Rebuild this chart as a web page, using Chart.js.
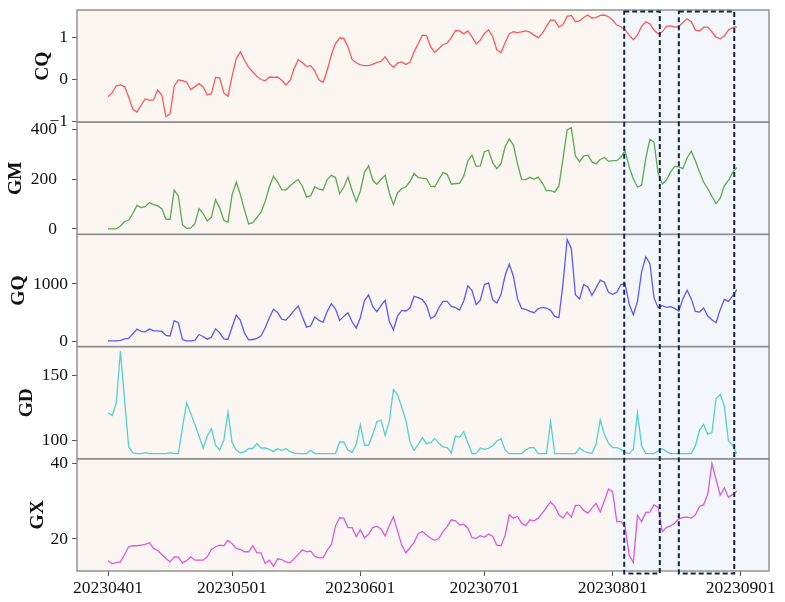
<!DOCTYPE html>
<html lang="en">
<head>
<meta charset="UTF-8">
<title>CQ / GM / GQ / GD / GX</title>
<script src="https://cdn.jsdelivr.net/npm/chart.js"></script>
<style>
  body { margin: 0; background: #fff; }
  .wrap { position: relative; width: 785px; height: 602px; }
</style>
</head>
<body>
<div class="wrap"><canvas id="linegraph"></canvas></div>
<script>
// daily series, 20230401 .. 20230831 (index 0 = 20230401)
var xTickDays = [0, 30, 61, 91, 122, 153];
var xTickLabels = ['20230401', '20230501', '20230601', '20230701', '20230801', '20230901'];

var cq = [-0.41,-0.32,-0.15,-0.13,-0.17,-0.42,-0.71,-0.78,-0.61,-0.46,-0.50,-0.49,-0.25,-0.37,-0.89,-0.82,-0.16,-0.01,-0.03,-0.06,
  -0.24,-0.17,-0.10,-0.18,-0.37,-0.34,0.05,0.04,-0.32,-0.40,0.08,0.50,0.66,0.46,0.29,0.18,0.08,0.00,-0.03,0.06,
  0.05,0.06,-0.02,-0.13,-0.03,0.26,0.47,0.40,0.31,0.33,0.20,-0.01,-0.07,0.22,0.59,0.86,0.99,0.98,0.78,0.48,
  0.40,0.35,0.33,0.33,0.36,0.41,0.43,0.54,0.39,0.29,0.39,0.42,0.36,0.41,0.66,0.86,1.06,1.05,0.78,0.65,
  0.74,0.83,0.87,1.00,1.17,1.16,1.09,1.16,1.02,0.85,0.94,1.10,1.19,1.02,0.71,0.64,0.88,1.09,1.14,1.12,
  1.14,1.16,1.13,1.06,1.00,1.10,1.27,1.42,1.41,1.25,1.31,1.51,1.53,1.38,1.40,1.48,1.54,1.47,1.48,1.53,
  1.54,1.50,1.42,1.30,1.26,1.19,1.06,0.95,1.06,1.27,1.38,1.33,1.18,1.09,1.14,1.27,1.28,1.25,1.26,1.36,
  1.45,1.38,1.18,1.16,1.25,1.25,1.14,1.01,0.97,1.04,1.18,1.24,1.26];

var gm = [0,0,0,12,30,35,62,95,86,90,106,98,93,82,40,39,157,133,17,2,
  4,20,82,62,32,47,118,85,35,27,138,189,138,76,20,25,46,68,111,169,
  212,190,158,157,173,188,199,172,128,134,170,160,157,199,216,207,142,168,209,156,
  110,153,228,254,196,180,199,216,146,98,146,162,170,191,224,207,205,203,172,170,
  199,228,219,180,183,184,213,274,297,252,254,311,317,266,243,263,331,362,339,262,
  200,199,208,200,209,185,154,154,148,172,283,399,408,294,270,294,297,270,262,280,
  288,272,275,275,290,315,250,201,169,176,283,361,350,224,181,197,229,252,250,243,
  286,313,275,229,189,162,131,102,124,174,196,227,247];

var gq = [5,5,5,12,41,47,129,211,170,164,211,181,181,170,99,88,357,322,29,5,
  5,12,117,82,35,70,216,146,41,29,246,456,363,140,23,29,47,94,234,410,
  556,503,386,369,445,538,614,421,246,269,421,363,328,521,655,562,363,433,497,339,
  228,410,708,807,603,515,620,714,345,199,439,538,527,579,784,761,726,626,398,433,
  585,696,696,608,585,544,702,965,883,638,714,989,1018,725,667,813,1147,1346,1135,743,
  567,556,521,497,567,591,579,538,433,410,1006,1778,1620,813,737,989,948,802,930,1065,
  1030,854,819,854,989,1006,643,462,696,1211,1474,1357,755,585,620,591,603,573,526,743,
  889,743,521,509,579,439,374,322,550,731,696,790,901];

var gd = [121.2,119.1,128.8,168.4,131.4,94.9,90.6,89.8,89.8,90.6,89.8,89.8,89.8,89.8,89.8,90.6,89.8,89.8,109.7,128.8,
  120.7,112.2,103.3,93.9,103.3,108.9,96.2,92.6,100,121.7,98.2,92.6,90.3,91.3,93.6,93.9,97.4,94.1,94.1,93.1,
  91.3,93.6,92.3,93.6,91.3,90.1,89.8,89.8,89.8,92.3,89.8,89.8,89.8,89.8,89.8,89.8,98.7,98.7,92.6,90.6,
  96.9,112.0,96.2,96.2,104.6,114.3,115.6,103.8,114.3,139.0,135.2,125.5,115.6,98.7,92.3,96.9,102.0,97.4,98.2,101.5,
  97.7,94.9,94.4,90.3,103.3,102.3,106.6,98.2,89.8,89.8,94.1,93.1,93.9,95.7,99.5,101.3,92.6,89.8,89.8,89.8,
  89.8,92.6,94.4,94.4,89.8,89.8,89.8,114.3,89.8,89.8,89.8,89.8,89.8,89.8,94.1,91.8,90.6,89.8,96.9,115.6,
  104.6,97.7,94.4,94.4,93.1,90.6,89.8,93.1,121.2,95.7,89.8,89.8,89.8,91.8,93.6,91.3,89.8,89.8,89.8,89.8,
  89.8,89.8,95.7,107.9,112.2,104.6,105.9,131.9,135.2,126.3,99.5,96.2,89.8];

var gx = [14.29,13.39,13.75,13.93,15.89,17.95,18.21,18.21,18.39,18.57,19.02,17.50,16.96,15.89,14.82,13.93,15.27,15.18,13.66,14.20,
  15.27,14.38,14.38,14.38,15.27,17.23,17.95,18.39,18.21,19.64,18.75,17.50,17.23,16.61,16.61,18.21,16.34,16.34,13.48,14.38,
  12.77,14.73,14.55,13.93,13.66,14.73,15.98,17.14,16.61,16.79,15.36,15.00,15.00,17.05,18.57,23.48,25.63,25.54,23.04,23.04,
  20.63,22.41,20.36,21.25,23.04,23.39,22.68,20.80,23.57,25.89,22.14,18.39,16.34,17.68,19.11,21.43,21.96,21.07,20.18,19.64,
  20.18,21.96,23.30,25.09,24.82,23.75,23.93,22.86,20.36,20.18,20.89,20.45,21.34,20.71,18.39,18.21,20.89,26.43,25.54,25.98,
  24.20,23.57,25.09,24.82,25.54,26.88,28.39,29.82,28.66,26.43,25.54,27.14,25.80,28.93,28.93,27.59,26.88,28.21,29.46,27.23,
  30.18,33.30,32.50,24.64,24.64,23.30,15.71,13.75,26.34,24.64,27.05,27.14,29.11,28.39,21.96,23.04,23.48,24.20,25.36,25.71,
  25.80,25.54,26.43,28.66,29.11,31.96,40.0,35.80,31.61,33.57,31.07,31.79,32.68];

var cqTicks = [-1, 0, 1];
var gmTicks = [0, 200, 400];
var gqTicks = [0, 1000];
var gdTicks = [100, 150];
var gxTicks = [20, 40];

var shadeFrom = 121.5;                       // blue background from here (day index)
var boxes = [[124.8, 133.4], [138, 151.4]];  // dashed windows (day index)

var serif = "'Liberation Serif', 'Times New Roman', serif";

function toPoints(arr) {
  return arr.map(function (v, i) { return { x: i, y: v }; });
}

// titlePad / tickPad: how far the panel name and the numbers sit from the frame
function yAxis(title, ticks, min, max, weight, titlePad, tickPad) {
  return {
    type: 'linear',
    position: 'left',
    stack: 'panels',
    stackWeight: 1,
    weight: weight,
    min: min,
    max: max,
    afterFit: function (s) {
      s.width = 77;
      s.paddingTop = 0;
      s.paddingBottom = 0;
    },
    afterBuildTicks: function (s) {
      s.ticks = ticks.map(function (v) { return { value: v }; });
    },
    ticks: {
      autoSkip: false,
      padding: tickPad,
      color: '#111',
      font: { family: serif, size: 17.5 },
      callback: function (v) { return String(v).replace('-', '\u2212'); }
    },
    grid: { drawOnChartArea: false, tickLength: 5, color: '#555' },
    border: { display: false },
    title: {
      display: true,
      text: title,
      color: '#111',
      font: { family: serif, size: 19.5, weight: 'bold' },
      padding: { top: titlePad, bottom: 0 }
    }
  };
}

var panelPlugin = {
  id: 'panels',
  beforeDatasetsDraw: function (chart) {
    var ctx = chart.ctx, a = chart.chartArea;
    var xs = chart.scales.x.getPixelForValue(shadeFrom);
    ctx.save();
    ctx.fillStyle = '#fcf6f2';
    ctx.fillRect(a.left, a.top, xs - a.left, a.bottom - a.top);
    ctx.fillStyle = '#f3f7fb';
    ctx.fillRect(xs, a.top, a.right - xs, a.bottom - a.top);
    ctx.restore();
  },
  afterDatasetsDraw: function (chart) {
    var ctx = chart.ctx, a = chart.chartArea, x = chart.scales.x;
    ctx.save();
    ctx.strokeStyle = '#8c8c8c';
    ctx.lineWidth = 1.4;
    ['cq', 'gm', 'gq', 'gd', 'gx'].forEach(function (id) {
      var s = chart.scales[id];
      ctx.strokeRect(a.left, s.top, a.right - a.left, s.bottom - s.top);
    });
    ctx.strokeStyle = '#14254a';
    ctx.lineWidth = 2;
    ctx.setLineDash([5, 3]);
    boxes.forEach(function (b) {
      var x0 = x.getPixelForValue(b[0]), x1 = x.getPixelForValue(b[1]);
      ctx.strokeRect(x0, a.top + 1.5, x1 - x0, a.bottom - a.top + 1);
    });
    ctx.restore();
  }
};

var ctx = document.getElementById('linegraph');

var lineGraph = new Chart(ctx, {
  type: 'line',
  data: {
    datasets: [
      { label: 'CQ', data: toPoints(cq), yAxisID: 'cq', borderColor: '#fa5a5a' },
      { label: 'GM', data: toPoints(gm), yAxisID: 'gm', borderColor: '#5aaa50' },
      { label: 'GQ', data: toPoints(gq), yAxisID: 'gq', borderColor: '#5a5afa' },
      { label: 'GD', data: toPoints(gd), yAxisID: 'gd', borderColor: '#4fd2d0' },
      { label: 'GX', data: toPoints(gx), yAxisID: 'gx', borderColor: '#dc58dc' }
    ]
  },
  options: {
    responsive: true,
    maintainAspectRatio: false,
    animation: false,
    layout: { padding: { top: 10, right: 16, left: 0, bottom: 0 } },
    elements: {
      line: { borderWidth: 1.3, tension: 0, fill: false },
      point: { radius: 0 }
    },
    plugins: {
      legend: { display: false },
      tooltip: { enabled: false }
    },
    scales: {
      x: {
        type: 'linear',
        min: -7.5,
        max: 159.8,
        afterFit: function (s) {
          s.height = 31;
          s.paddingLeft = 0;
          s.paddingRight = 0;
        },
        afterBuildTicks: function (s) {
          s.ticks = xTickDays.map(function (v) { return { value: v }; });
        },
        ticks: {
          autoSkip: false,
          maxRotation: 0,
          padding: 2,
          color: '#111',
          font: { family: serif, size: 17.5 },
          callback: function (v) {
            var i = xTickDays.indexOf(v);
            return i >= 0 ? xTickLabels[i] : '';
          }
        },
        grid: { drawOnChartArea: false, tickLength: 5, color: '#555' },
        border: { display: false }
      },
      cq: yAxis('CQ', cqTicks, -1.02, 1.66, 5, 31, 4),
      gm: yAxis('GM', gmTicks, -22, 430, 4, 4, 15),
      gq: yAxis('GQ', gqTicks, -95, 1865, 3, 7, 4),
      gd: yAxis('GD', gdTicks, 85.8, 172, 2, 15, 4),
      gx: yAxis('GX', gxTicks, 11.5, 41.3, 1, 26, 4)
    }
  },
  plugins: [panelPlugin]
});
</script>
</body>
</html>
